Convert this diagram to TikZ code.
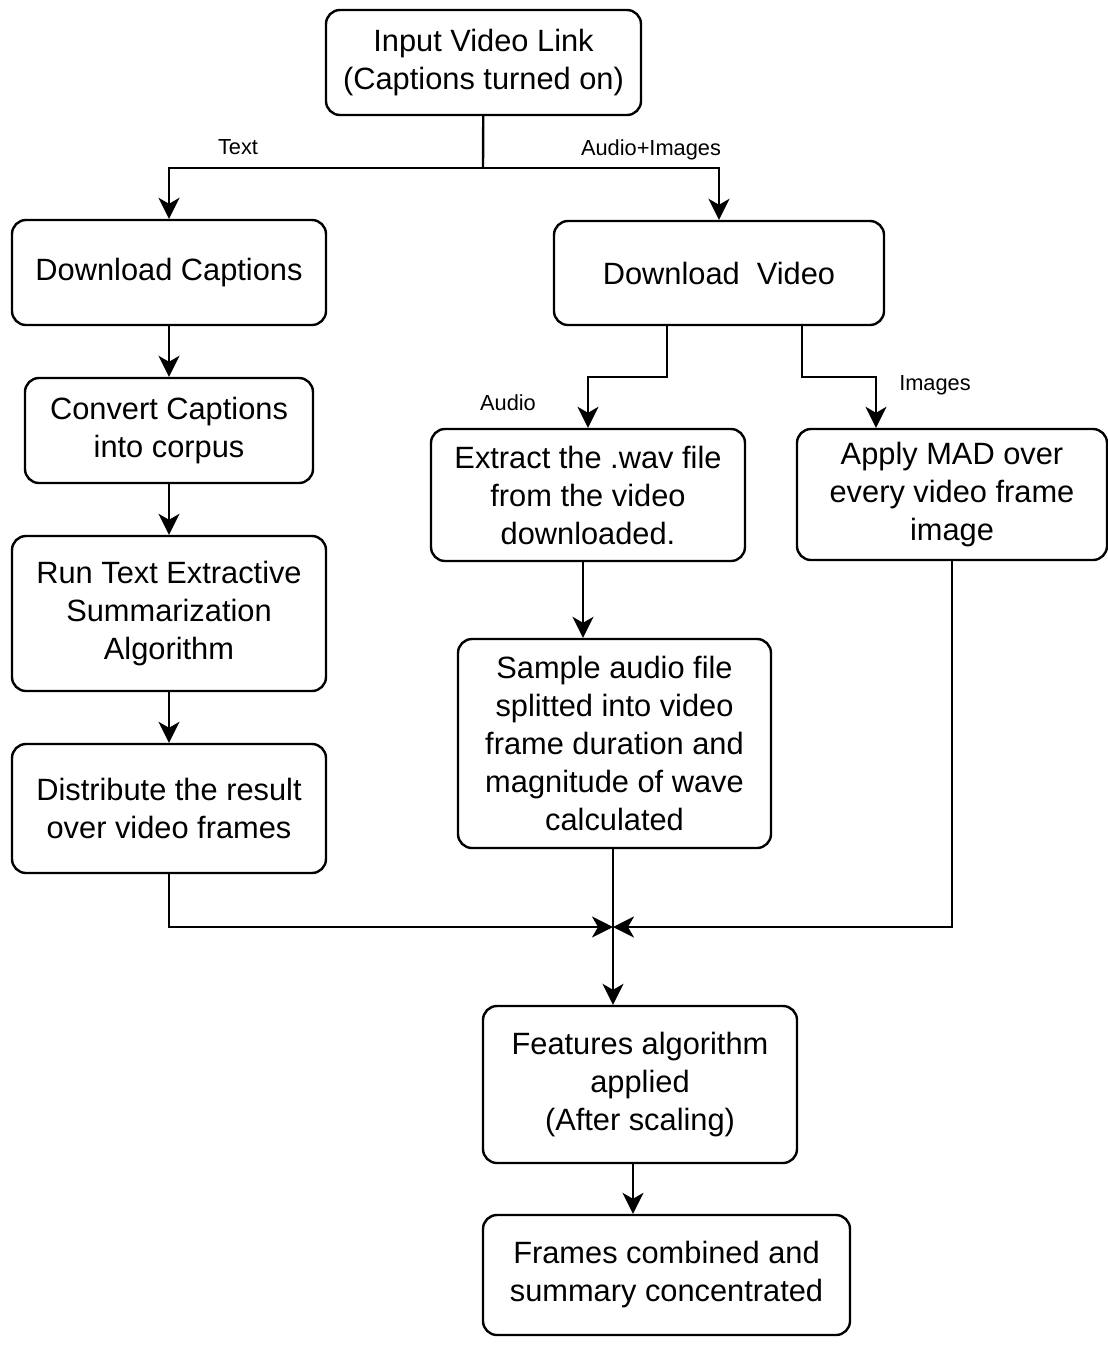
\documentclass[tikz,border=0pt]{standalone}
\usepackage{fontspec}
\setmainfont{Liberation Sans}
\usetikzlibrary{arrows.meta}

\tikzset{
  box/.style={draw=black, line width=2.4pt, rounded corners=14pt, fill=white,
    align=center, inner sep=0pt, font=\fontsize{30.8}{38}\selectfont},
  arr/.style={draw=black, line width=2.4pt,
    -{Stealth[length=21pt, width=21pt, inset=6pt]}},
  thin arr/.style={arr, line width=2pt},
  lbl/.style={inner sep=0pt, font=\fontsize{21.8}{26}\selectfont}
}

\begin{document}
\begin{tikzpicture}[x=1pt, y=-1pt]
  \useasboundingbox (0,0) rectangle (1108,1345);

  % process boxes
  \node[box, minimum width=315pt, minimum height=105pt] (input) at (483.5,62.5)
    {Input Video Link\\(Captions turned on)};
  \node[box, minimum width=314pt, minimum height=105pt] (cap) at (169,272.5)
    {Download Captions};
  \node[box, minimum width=330pt, minimum height=104pt] (vid) at (719,273)
    {Download\ \ Video};
  \node[box, minimum width=288pt, minimum height=105pt] (corp) at (169,430.5)
    {Convert Captions\\into corpus};
  \node[box, minimum width=314pt, minimum height=155pt] (run) at (169,613.5)
    {Run Text Extractive\\Summarization\\Algorithm};
  \node[box, minimum width=314pt, minimum height=129pt] (dist) at (169,808.5)
    {Distribute the result\\over video frames};
  \node[box, minimum width=314pt, minimum height=132pt] (wav) at (588,495)
    {Extract the .wav file\\from the video\\downloaded.};
  \node[box, minimum width=310pt, minimum height=131pt] (mad) at (952,494.5)
    {Apply MAD over\\every video frame\\image};
  \node[box, minimum width=313pt, minimum height=209pt] (samp) at (614.5,743.5)
    {Sample audio file\\splitted into video\\frame duration and\\magnitude of wave\\calculated};
  \node[box, minimum width=314pt, minimum height=157pt] (feat) at (640,1084.5)
    {Features algorithm\\applied\\(After scaling)};
  \node[box, minimum width=367pt, minimum height=120pt] (fram) at (666.5,1275)
    {Frames combined and\\summary concentrated};

  % branch points
  \coordinate (split) at (483,168);
  \coordinate (va) at (667,377);
  \coordinate (vb) at (802,377);
  \coordinate (vc) at (876,377);
  \coordinate (merge) at (613,927);

  % input splits into text and audio+images paths
  \draw[line width=2.4pt] (input) -- (split);
  \draw[arr] (split) -| (cap);
  \draw[arr] (split) -| (vid);
  \node[lbl] (ltext) at (238,147) {Text};
  \node[lbl] (lai) at (651,150) {Audio+Images};

  % text path
  \draw[arr, line width=2.8pt] (cap) -- (corp);
  \draw[arr, line width=2.8pt] (corp) -- (run);
  \draw[arr, line width=2.8pt] (run) -- (dist);

  % video splits into audio and images
  \draw[arr] (vid.south -| va) -- (va) -| (wav);
  \draw[arr] (vid.south -| vb) -- (vb) -- (vc) -- (mad.north -| vc);
  \node[lbl] (laud) at (508,403) {Audio};
  \node[lbl] (limg) at (935,385) {Images};

  % audio processing
  \draw[thin arr] (wav.south -| 583,0) -- (samp.north -| 583,0);

  % merge into features
  \draw[thin arr] (dist) |- (merge);
  \draw[thin arr] (mad) |- (merge);
  \draw[thin arr] (samp.south -| merge) -- (feat.north -| merge);
  \draw[thin arr] (feat.south -| 633,0) -- (fram.north -| 633,0);
\end{tikzpicture}
\end{document}
